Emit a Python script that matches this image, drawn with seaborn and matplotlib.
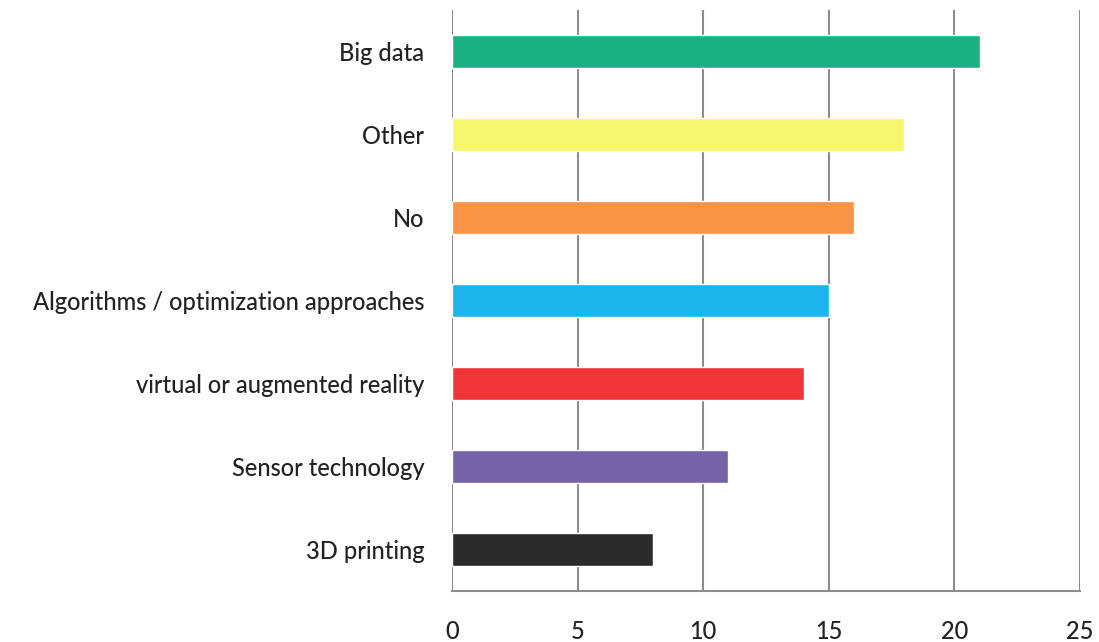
import matplotlib
matplotlib.use("Agg")
import matplotlib.pyplot as plt
import seaborn as sns
import pandas as pd

# Chart data
categories = ["Big data", "Other", "No", "Algorithms / optimization approaches",
              "virtual or augmented reality", "Sensor technology", "3D printing"]
counts = [21, 18, 16, 15, 14, 11, 8]
bar_colors = ["#19b083", "#f6f66c", "#f89444", "#1db3ec", "#f2353b", "#7662a6", "#2b2b2b"]
x_ticks = [0, 5, 10, 15, 20, 25]

df = pd.DataFrame({"category": categories, "count": counts})

sns.set_style("white")
plt.rcParams['font.family'] = ['Lato', 'DejaVu Sans']
plt.rcParams['font.weight'] = 'medium'

fig = plt.figure(figsize=(10.99, 6.42), dpi=100)
ax = fig.add_axes([0.4113, 0.0794, 0.5714, 0.905])

sns.barplot(data=df, x="count", y="category", hue="category", palette=bar_colors,
            legend=False, width=0.4, saturation=1, ax=ax)

ax.set_xlim(0, 25)
ax.set_xticks(x_ticks)
ax.set_ylim(6.5, -0.5)
ax.set_xlabel("")
ax.set_ylabel("")

# Vertical gridlines behind bars
ax.set_axisbelow(True)
ax.grid(axis="x", color="#8c8c8c", linewidth=1.5)
ax.grid(axis="y", visible=False)

for side in ["top", "right", "left"]:
    ax.spines[side].set_visible(False)
ax.spines["bottom"].set_color("#8c8c8c")
ax.spines["bottom"].set_linewidth(1.5)

ax.tick_params(axis="x", length=0, pad=21, labelsize=17, labelcolor="#222222")
ax.tick_params(axis="y", length=0, pad=20, labelsize=17, labelcolor="#222222")

plt.savefig("out.png", dpi=100)
